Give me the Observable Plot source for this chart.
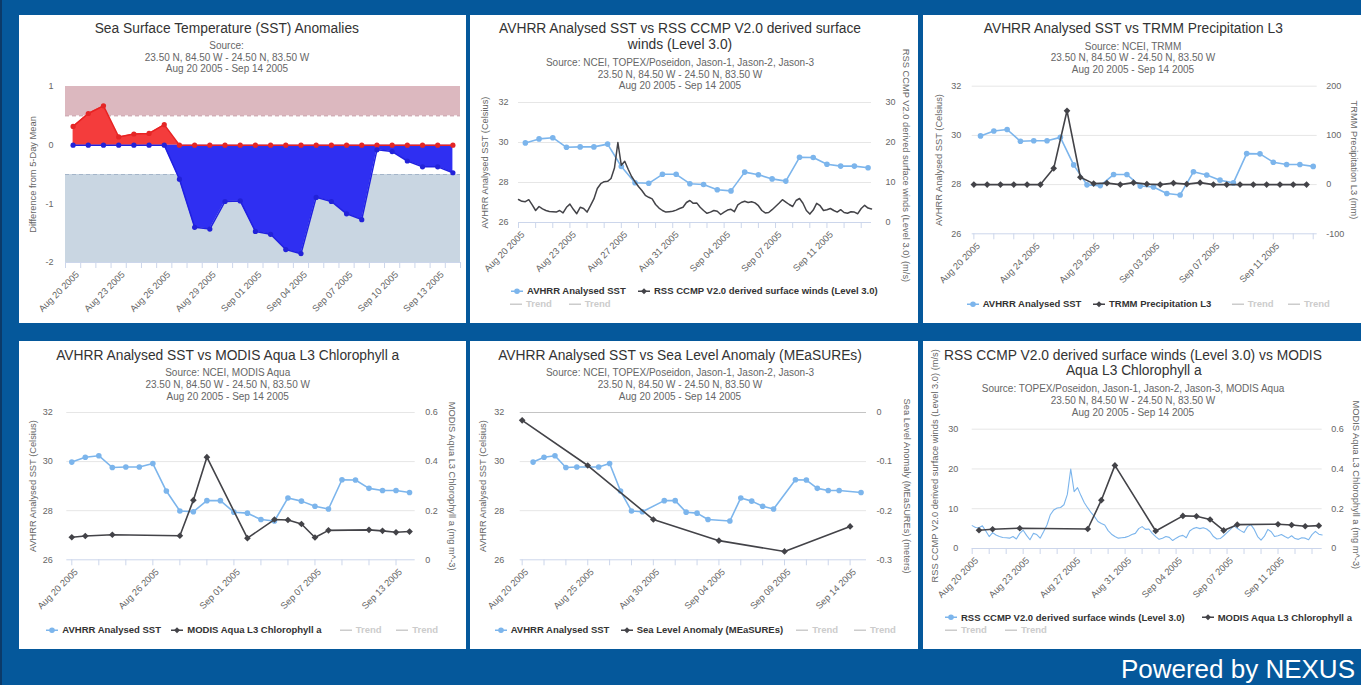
<!DOCTYPE html>
<html><head><meta charset="utf-8">
<script src="https://cdn.jsdelivr.net/npm/d3@7"></script>
<script src="https://cdn.jsdelivr.net/npm/@observablehq/plot@0.6"></script>
<style>
html,body{margin:0;padding:0;}
body{width:1361px;height:685px;background:#05589b;position:relative;overflow:hidden;font-family:"Liberation Sans",Arial,sans-serif;}
.panel{position:absolute;background:#fff;overflow:visible;}
.panel svg{position:absolute;left:0;top:0;}
</style></head><body>
<script>
const FONT = '"Liberation Sans", Arial, Helvetica, sans-serif';
const DAY = 864e5, HOUR = 36e5;
const startDay = Date.UTC(2005, 7, 20);

// ---------------- data ----------------
// daily categories Aug 20 .. Sep 14 2005
const days = d3.range(26).map(k => startDay + k * DAY);
// SST anomaly (difference from 5-day mean)
const anomaly = [0.32, 0.54, 0.67, 0.14, 0.19, 0.20, 0.35, -0.58, -1.40, -1.43, -0.96, -0.95, -1.47,
  -1.52, -1.78, -1.85, -0.89, -0.96, -1.17, -1.27, -0.08, -0.11, -0.27, -0.37, -0.37, -0.47];
const bandFrom = [0.5, -2], bandTo = [1, -0.5], bandColors = ["#dcb8bf", "#c9d6e2"];
const bandEdge = [0.5, -0.5], bandEdgeColors = ["#c2949e", "#a4b5c9"];
// AVHRR analysed SST (Celsius)
const sst = [29.98, 30.18, 30.24, 29.76, 29.78, 29.78, 29.92, 28.80, 27.99, 27.96, 28.41, 28.41, 27.94,
  27.90, 27.64, 27.58, 28.52, 28.39, 28.18, 28.07, 29.26, 29.25, 28.91, 28.82, 28.82, 28.74];
// TRMM precipitation (mm), daily at 00:00
const trmm = [0, 0, 0, 0, 0, 0, 33, 150, 15, 2, 3, 0, 4, 1, 0, 3, 1, 4, 0, 0, 0, 0, 0, 0, 0, 0];
// MODIS Aqua chlorophyll a (mg m^-3)
const chlDays = ["2005-08-20","2005-08-21","2005-08-23","2005-08-28","2005-08-29","2005-08-30","2005-09-02",
  "2005-09-04","2005-09-05","2005-09-06","2005-09-07","2005-09-08","2005-09-11","2005-09-12","2005-09-13","2005-09-14"];
const chl = [0.092, 0.097, 0.102, 0.098, 0.243, 0.418, 0.088, 0.164, 0.162, 0.146, 0.091, 0.120, 0.122, 0.118, 0.112, 0.115];
// Sea level anomaly (meters)
const slaDays = ["2005-08-20","2005-08-25","2005-08-30","2005-09-04","2005-09-09","2005-09-14"];
const sla = [-0.016, -0.108, -0.218, -0.261, -0.283, -0.232];
// RSS CCMP winds (m/s), 6-hourly from Aug 20 00:00
const wind = [5.75,5.3,5.2,5.7,4.4,3.0,4.0,3.4,3.0,2.75,
  2.7,2.6,3.0,2.4,3.8,4.6,3.3,2.2,3.8,3.5,
  2.6,4.2,5.9,8.5,9.7,10.2,10.3,11.0,13.6,20.0,
  14.3,15.3,13.3,11.5,10.2,9.0,8.0,6.8,6.3,5.9,
  4.5,3.6,3.0,2.6,2.7,2.8,3.1,3.5,3.8,5.0,
  5.5,4.8,4.9,3.8,3.0,2.3,2.6,3.0,2.8,2.0,
  2.6,3.1,3.3,2.7,4.4,5.0,5.3,5.0,5.2,4.9,
  4.2,3.0,2.4,2.5,3.2,4.0,4.8,5.7,5.1,4.5,
  4.0,5.5,6.0,4.8,3.0,2.1,3.1,4.8,4.2,3.0,
  3.2,3.5,3.0,2.6,3.2,2.5,2.3,2.7,2.6,2.2,
  3.5,4.3,3.6,3.4];

// tick labels
const p1Labels = ["Aug 20 2005","Aug 23 2005","Aug 26 2005","Aug 29 2005","Sep 01 2005","Sep 04 2005","Sep 07 2005","Sep 10 2005","Sep 13 2005"];
const p1LabelAt = [0, 3, 6, 9, 12, 15, 18, 21, 24];
const windLabels = ["Aug 20 2005","Aug 23 2005","Aug 27 2005","Aug 31 2005","Sep 04 2005","Sep 07 2005","Sep 11 2005"];
const windLabelAt = [0, 15, 30, 45, 60, 75, 90];
const p3Labels = ["Aug 20 2005","Aug 24 2005","Aug 29 2005","Sep 03 2005","Sep 07 2005","Sep 11 2005"];
const p3LabelAt = [0, 9, 18, 27, 36, 45];
const p4Labels = ["Aug 20 2005","Aug 26 2005","Sep 01 2005","Sep 07 2005","Sep 13 2005"];
const p4LabelAt = [0, 6, 12, 18, 24];
const p5Labels = ["Aug 20 2005","Aug 25 2005","Aug 30 2005","Sep 04 2005","Sep 09 2005","Sep 14 2005"];
const p5LabelAt = [0, 6, 12, 18, 24, 30];

const coords = "23.50 N, 84.50 W - 24.50 N, 83.50 W";
const period = "Aug 20 2005 - Sep 14 2005";

// ---------------- series with timestamps ----------------
const sstS = days.map((t, k) => ({t: t + 12 * HOUR, v: sst[k]}));
const trmmS = days.map((t, k) => ({t, v: trmm[k]}));
const chlS = chlDays.map((s, k) => ({t: Date.parse(s + "T12:00:00Z"), v: chl[k]}));
const slaS = slaDays.map((s, k) => ({t: Date.parse(s + "T00:00:00Z"), v: sla[k]}));
const windS = wind.map((v, k) => ({t: startDay + k * 6 * HOUR, v}));

// ordinal category index over the union of timestamps
function ordinal(...series) {
  const ts = Array.from(new Set(series.flatMap(s => s.map(d => d.t)))).sort((a, b) => a - b);
  const idx = new Map(ts.map((t, k) => [t, k]));
  return series.map(s => s.map(d => ({...d, i: idx.get(d.t)})));
}

// ---------------- helpers ----------------
function el(tag, css, parent = document.body) {
  const e = document.createElement(tag); e.style.cssText = css; parent.appendChild(e); return e;
}
function txt(s, cx, cy, size, color, weight = "normal") {
  const e = el("div", `position:absolute;left:${cx}px;top:${cy}px;transform:translate(-50%,-50%);font-size:${size}px;line-height:1;color:${color};font-weight:${weight};white-space:nowrap;font-family:${FONT}`);
  e.textContent = s;
}
function legendItem(x, y, label, kind) {
  const colors = {sst: "#7cb5ec", black: "#434348", trend: "#cccccc"};
  const c = colors[kind];
  const e = el("div", `position:absolute;left:${x}px;top:${y}px;transform:translateY(-50%);display:flex;align-items:center;white-space:nowrap;font-weight:bold;font-size:9.5px;line-height:1;font-family:${FONT};color:${kind === "trend" ? "#cccccc" : "#333333"}`);
  const s = document.createElementNS("http://www.w3.org/2000/svg", "svg");
  s.setAttribute("width", 12); s.setAttribute("height", 8); s.style.display = "block";
  s.innerHTML = `<line x1="0" y1="4" x2="12" y2="4" stroke="${c}" stroke-width="1.6"/>` +
    (kind === "trend" ? "" : kind === "black" ? `<path d="M6,1 L9,4 L6,7 L3,4Z" fill="${c}"/>` : `<circle cx="6" cy="4" r="2.8" fill="${c}"/>`);
  e.appendChild(s);
  const t = document.createElement("span"); t.style.marginLeft = "4px"; t.textContent = label; e.appendChild(t);
}
function panelDiv(box) {
  const [x, y, w, h] = box;
  return el("div", `left:${x}px;top:${y}px;width:${w}px;height:${h}px`, document.body);
}
function styleObj() {
  return {fontFamily: FONT, fontSize: "9px", color: "#666", background: "transparent", overflow: "visible"};
}
function blueMarks(data, markers = true, width = 1.6) {
  const m = [Plot.line(data, {x: "i", y: "v", stroke: "#7cb5ec", strokeWidth: width})];
  if (markers) m.push(Plot.dot(data, {x: "i", y: "v", r: 2.8, fill: "#7cb5ec"}));
  return m;
}
function blackMarks(data, markers = true, width = 1.6) {
  const m = [Plot.line(data, {x: "i", y: "v", stroke: "#434348", strokeWidth: width})];
  if (markers) m.push(Plot.dot(data, {x: "i", y: "v", r: 3, symbol: "diamond2", fill: "#434348"}));
  return m;
}
function xAxisMarks(minor, labelAt, labels) {
  return [
    Plot.axisX(minor, {tickSize: 6, stroke: "#ccd6eb", tickFormat: () => "", label: null}),
    Plot.text(labelAt, {x: d => d, text: (d, k) => labels[k], frameAnchor: "bottom", rotate: -45,
      textAnchor: "end", lineAnchor: "top", dx: 2, dy: 8, fill: "#666", fontSize: 9.3})
  ];
}

function dualPanel(c) {
  const div = panelDiv(c.box);
  div.className = "panel";
  const [, , pw, ph] = c.box;
  const common = {width: pw, height: ph, marginTop: c.m[0], marginRight: c.m[1], marginBottom: c.m[2], marginLeft: c.m[3],
    x: {type: "linear", domain: c.xDomain, axis: null}};
  const A = Plot.plot({...common, style: styleObj(), y: {domain: c.ly.domain, axis: null}, marks: [
    Plot.gridY(c.ly.grid, {stroke: "#e6e6e6", strokeOpacity: 1}),
    Plot.ruleY([c.ly.domain[0]], {stroke: "#ccd6eb"}),
    ...xAxisMarks(c.minor, c.labelAt, c.labels),
    Plot.axisY(c.ly.ticks, {anchor: "left", tickSize: 0, tickPadding: c.ly.pad, label: null, tickFormat: d => String(d), fill: "#666"}),
    Plot.text([c.ly.title], {text: d => d, frameAnchor: "left", dx: c.ly.dx, dy: c.ly.dy || 0, rotate: -90,
      textAnchor: "middle", lineAnchor: "middle", fill: "#666", fontSize: 9.3}),
    ...c.leftMarks
  ]});
  const B = Plot.plot({...common, style: styleObj(), y: {domain: c.ry.domain, axis: null}, marks: [
    ...(c.rightPre || []),
    Plot.axisY(c.ry.ticks, {anchor: "right", tickSize: 0, tickPadding: c.ry.pad, label: null, tickFormat: d => String(d), fill: "#666"}),
    Plot.text([c.ry.title], {text: d => d, frameAnchor: "right", dx: c.ry.dx, dy: c.ry.dy || 0, rotate: 90,
      textAnchor: "middle", lineAnchor: "middle", fill: "#666", fontSize: 9.3}),
    ...c.rightMarks
  ]});
  div.appendChild(A); div.appendChild(B);
  c.titles.forEach(([s, x, y]) => txt(s, x, y, 13.8, "#333333"));
  c.subs.forEach(([s, x, y]) => txt(s, x, y, 10, "#666666"));
  c.legend.forEach(([x, y, label, kind]) => legendItem(x, y, label, kind));
}

// left dark edge
el("div", "position:absolute;left:0;top:0;width:2px;height:685px;background:#0b3a69");

// ---------------- Panel 1: SST anomalies ----------------
{
  const box = [19, 15, 447, 308];
  const div = panelDiv(box); div.className = "panel";
  const data = days.map((t, k) => ({i: k, pos: Math.max(anomaly[k], 0), neg: Math.min(anomaly[k], 0)}));
  const bands = bandFrom.map((f, k) => ({from: f, to: bandTo[k], color: bandColors[k]}));
  const edges = bandEdge.map((v, k) => ({v, c: bandEdgeColors[k]}));
  const svg = Plot.plot({
    width: box[2], height: box[3], marginTop: 71, marginRight: 6, marginBottom: 61, marginLeft: 46,
    style: styleObj(),
    x: {type: "linear", domain: [-0.5, 25.5], axis: null},
    y: {domain: [-2, 1], axis: null},
    marks: [
      Plot.rect(bands, {y1: "from", y2: "to", fill: "color"}),
      Plot.ruleY(edges, {y: "v", stroke: "c", strokeDasharray: "4,3"}),
      Plot.ruleY([-2], {stroke: "#ccd6eb"}),
      ...xAxisMarks(d3.range(27).map(k => k - 0.5), p1LabelAt, p1Labels),
      Plot.axisY([-2, -1, 0, 1], {anchor: "left", tickSize: 0, tickPadding: 12, label: null, tickFormat: d => String(d), fill: "#666"}),
      Plot.text(["Difference from 5-Day Mean"], {text: d => d, frameAnchor: "left", dx: -32, rotate: -90,
        textAnchor: "middle", lineAnchor: "middle", fill: "#666", fontSize: 9.3}),
      Plot.areaY(data, {x: "i", y1: 0, y2: "pos", fill: "#f43c3c"}),
      Plot.areaY(data, {x: "i", y1: 0, y2: "neg", fill: "#2f2ff2"}),
      Plot.line(data, {x: "i", y: "pos", stroke: "#e82222", strokeWidth: 1.5}),
      Plot.dot(data, {x: "i", y: "pos", r: 2.6, fill: "#e42626"}),
      Plot.line(data, {x: "i", y: "neg", stroke: "#2020e0", strokeWidth: 1.5}),
      Plot.dot(data, {x: "i", y: "neg", r: 2.6, fill: "#2222d8"})
    ]
  });
  div.appendChild(svg);
  txt("Sea Surface Temperature (SST) Anomalies", 226.8, 28.7, 13.8, "#333333");
  txt("Source:", 226.5, 46.3, 10, "#666666");
  txt(coords, 227, 58.3, 10, "#666666");
  txt(period, 227, 69, 10, "#666666");
}

// ---------------- Panel 2: SST vs winds ----------------
{
  const [s, w] = ordinal(sstS, windS);
  dualPanel({
    box: [470, 15, 448, 308], m: [87, 47, 101, 48], xDomain: [0, 103],
    minor: d3.range(0, 104, 5), labelAt: windLabelAt, labels: windLabels,
    ly: {domain: [26, 32], ticks: [26, 28, 30, 32], grid: [28, 30, 32], pad: 10, title: "AVHRR Analysed SST (Celsius)", dx: -33},
    ry: {domain: [0, 30], ticks: [0, 10, 20, 30], pad: 14, title: "RSS CCMP V2.0 derived surface winds (Level 3.0) (m/s)", dx: 34, dy: 3},
    leftMarks: blueMarks(s), rightMarks: blackMarks(w, false, 1.5),
    titles: [["AVHRR Analysed SST vs RSS CCMP V2.0 derived surface", 680, 29], ["winds (Level 3.0)", 680, 44.7]],
    subs: [["Source: NCEI, TOPEX/Poseidon, Jason-1, Jason-2, Jason-3", 680, 63], [coords, 680, 74.7], [period, 680, 85.7]],
    legend: [[511, 291, "AVHRR Analysed SST", "sst"], [638, 291, "RSS CCMP V2.0 derived surface winds (Level 3.0)", "black"],
      [510, 304, "Trend", "trend"], [568.7, 304, "Trend", "trend"]]
  });
}

// ---------------- Panel 3: SST vs TRMM ----------------
{
  const [s, r] = ordinal(sstS, trmmS);
  dualPanel({
    box: [923, 15, 438, 308], m: [70.7, 44.3, 89.7, 48.7], xDomain: [-0.25, 51.6],
    minor: d3.range(0, 52, 3), labelAt: p3LabelAt, labels: p3Labels,
    ly: {domain: [26, 32], ticks: [26, 28, 30, 32], grid: [28, 30, 32], pad: 11, title: "AVHRR Analysed SST (Celsius)", dx: -33.4},
    ry: {domain: [-100, 200], ticks: [-100, 0, 100, 200], pad: 9, title: "TRMM Precipitation L3 (mm)", dx: 37},
    leftMarks: blueMarks(s), rightMarks: blackMarks(r),
    titles: [["AVHRR Analysed SST vs TRMM Precipitation L3", 1133.3, 29]],
    subs: [["Source: NCEI, TRMM", 1133, 47.3], [coords, 1133, 58.3], [period, 1133, 70]],
    legend: [[966.7, 304, "AVHRR Analysed SST", "sst"], [1093, 304, "TRMM Precipitation L3", "black"],
      [1231.7, 304, "Trend", "trend"], [1288, 304, "Trend", "trend"]]
  });
}

// ---------------- Panel 4: SST vs Chlorophyll ----------------
{
  const [s, c] = ordinal(sstS, chlS);
  dualPanel({
    box: [19, 341, 447, 308], m: [71, 51.3, 89.7, 47.3], xDomain: [-0.37, 25.42],
    minor: d3.range(0, 26, 2), labelAt: p4LabelAt, labels: p4Labels,
    ly: {domain: [26, 32], ticks: [26, 28, 30, 32], grid: [28, 30, 32], pad: 14, title: "AVHRR Analysed SST (Celsius)", dx: -33.3},
    ry: {domain: [0, 0.6], ticks: [0, 0.2, 0.4, 0.6], pad: 10, title: "MODIS Aqua L3 Chlorophyll a (mg m^-3)", dx: 36.6},
    leftMarks: blueMarks(s), rightMarks: blackMarks(c),
    titles: [["AVHRR Analysed SST vs MODIS Aqua L3 Chlorophyll a", 227.7, 356]],
    subs: [["Source: NCEI, MODIS Aqua", 227.7, 373.3], [coords, 227.7, 385], [period, 227.7, 396.7]],
    legend: [[46.3, 630, "AVHRR Analysed SST", "sst"], [171.3, 630, "MODIS Aqua L3 Chlorophyll a", "black"],
      [339.7, 630, "Trend", "trend"], [396.3, 630, "Trend", "trend"]]
  });
}

// ---------------- Panel 5: SST vs Sea level anomaly ----------------
{
  const [s, l] = ordinal(sstS, slaS);
  dualPanel({
    box: [470, 341, 448, 308], m: [71, 52, 89.7, 49.7], xDomain: [-0.18, 31.5],
    minor: d3.range(0, 32, 2), labelAt: p5LabelAt, labels: p5Labels,
    ly: {domain: [26, 32], ticks: [26, 28, 30, 32], grid: [28, 30], pad: 16, title: "AVHRR Analysed SST (Celsius)", dx: -36.7},
    ry: {domain: [-0.3, 0], ticks: [-0.3, -0.2, -0.1, 0], pad: 10, title: "Sea Level Anomaly (MEaSUREs) (meters)", dx: 40.3},
    rightPre: [Plot.ruleY([0], {stroke: "#c4c4c4"})],
    leftMarks: blueMarks(s), rightMarks: blackMarks(l),
    titles: [["AVHRR Analysed SST vs Sea Level Anomaly (MEaSUREs)", 680, 356]],
    subs: [["Source: NCEI, TOPEX/Poseidon, Jason-1, Jason-2, Jason-3", 680, 373.3], [coords, 680, 385], [period, 680, 396.7]],
    legend: [[494.7, 630, "AVHRR Analysed SST", "sst"], [620.7, 630, "Sea Level Anomaly (MEaSUREs)", "black"],
      [796.3, 630, "Trend", "trend"], [854, 630, "Trend", "trend"]]
  });
}

// ---------------- Panel 6: winds vs Chlorophyll ----------------
{
  const [w, c] = ordinal(windS, chlS);
  dualPanel({
    box: [923, 341, 438, 308], m: [87.7, 39.3, 101, 48.7], xDomain: [0, 103],
    minor: d3.range(0, 104, 5), labelAt: windLabelAt, labels: windLabels,
    ly: {domain: [0, 30], ticks: [0, 10, 20, 30], grid: [10, 20, 30], pad: 14, title: "RSS CCMP V2.0 derived surface winds (Level 3.0) (m/s)", dx: -36.7, dy: -23},
    ry: {domain: [0, 0.6], ticks: [0, 0.2, 0.4, 0.6], pad: 9, title: "MODIS Aqua L3 Chlorophyll a (mg m^-3)", dx: 34, dy: -4},
    leftMarks: blueMarks(w, false, 1.1), rightMarks: blackMarks(c),
    titles: [["RSS CCMP V2.0 derived surface winds (Level 3.0) vs MODIS", 1133, 356], ["Aqua L3 Chlorophyll a", 1133.8, 371]],
    subs: [["Source: TOPEX/Poseidon, Jason-1, Jason-2, Jason-3, MODIS Aqua", 1133, 389.3], [coords, 1133, 401], [period, 1133, 412.7]],
    legend: [[945, 617.7, "RSS CCMP V2.0 derived surface winds (Level 3.0)", "sst"], [1201.7, 617.7, "MODIS Aqua L3 Chlorophyll a", "black"],
      [945, 630, "Trend", "trend"], [1005, 630, "Trend", "trend"]]
  });
}

// footer
{
  const f = el("div", `position:absolute;right:6px;top:656px;font-size:26px;line-height:26px;color:#ffffff;font-family:${FONT};white-space:nowrap`);
  f.textContent = "Powered by NEXUS";
}
</script>
</body></html>
